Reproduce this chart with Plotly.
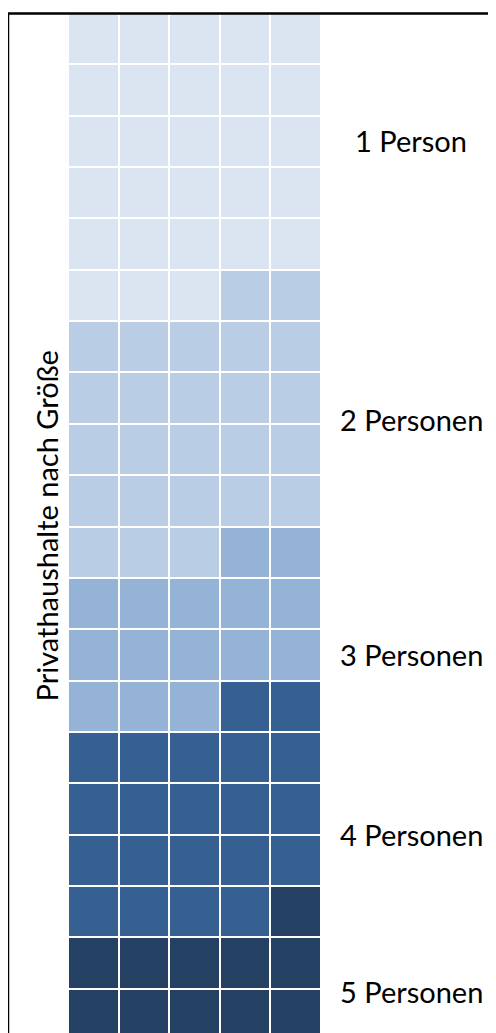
import plotly.graph_objects as go

# ---- data ----
categories = ["1 Person", "2 Personen", "3 Personen", "4 Personen", "5 Personen"]
counts = [28, 25, 15, 21, 11]          # cells out of 100
colors = ["#DBE5F1", "#B9CDE5", "#95B3D7", "#376092", "#244062"]
label_rows = [2.49, 7.91, 12.5, 15.99, 19.05]   # label positions (row units)
axis_title = "Privathaushalte nach Größe"

n_cols = 5
total = sum(counts)
n_rows = total // n_cols

# fill cells row by row, left to right
flat = []
for i, c in enumerate(counts):
    flat += [i] * c
z = [flat[r * n_cols:(r + 1) * n_cols] for r in range(n_rows)]

k = len(colors)
colorscale = []
for i, col in enumerate(colors):
    colorscale.append([i / k, col])
    colorscale.append([(i + 1) / k, col])

OFF = 8                       # default page body margin
W, H = 496 - OFF, 1033 - OFF
FONT = "Lato"
FS = 29

def px(x):  # page x pixel -> paper
    return (x - OFF) / W

def py(y):  # page y pixel -> paper
    return 1 - (y - OFF) / H

fig = go.Figure(go.Heatmap(
    z=z,
    x=[c + 0.5 for c in range(n_cols)],
    y=[r + 0.5 for r in range(n_rows)],
    colorscale=colorscale, zmin=-0.5, zmax=k - 0.5,
    xgap=2, ygap=2, showscale=False, hoverinfo="skip",
))

top_px = 13
row_px = 51.35
fig.update_layout(
    width=W, height=H,
    margin=dict(l=0, r=0, t=0, b=0),
    paper_bgcolor="white", plot_bgcolor="white",
    xaxis=dict(domain=[px(68), px(321)], range=[0, n_cols], visible=False, fixedrange=True),
    yaxis=dict(domain=[0, py(top_px)], range=[(1033 - top_px) / row_px, 0],
               visible=False, fixedrange=True),
    font=dict(family=FONT, color="black"),
    showlegend=False,
)

for name, yr in zip(categories, label_rows):
    fig.add_annotation(text=name, x=px(411), xref="paper", y=yr, yref="y",
                       xanchor="center", yanchor="middle", showarrow=False,
                       font=dict(family=FONT, size=FS, color="black"))

fig.add_annotation(text=axis_title, x=px(46), xref="paper",
                   y=n_rows / 2, yref="y", textangle=-90,
                   xanchor="center", yanchor="middle", showarrow=False,
                   font=dict(family=FONT, size=FS, color="black"))

# frame (left and top edges visible)
fig.add_shape(type="line", xref="paper", yref="paper",
              x0=px(8), x1=1.05, y0=py(13.5), y1=py(13.5),
              line=dict(color="black", width=2.5))
fig.add_shape(type="line", xref="paper", yref="paper",
              x0=px(8), x1=px(8), y0=py(13.5), y1=-0.05,
              line=dict(color="black", width=2.5))

fig.write_html("out.html")
